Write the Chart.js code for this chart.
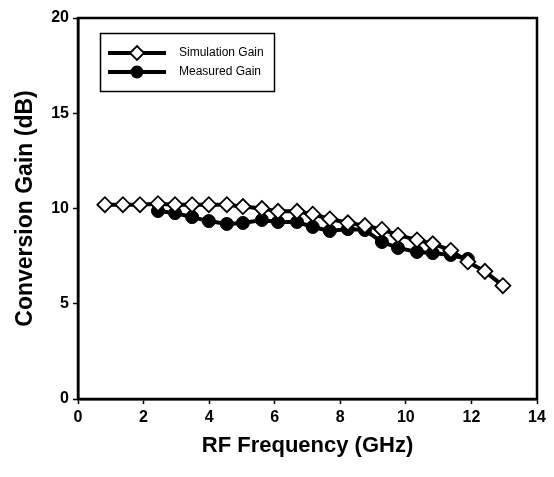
<!DOCTYPE html>
<html>
<head>
<meta charset="utf-8">
<script src="https://cdn.jsdelivr.net/npm/chart.js@4/dist/chart.umd.min.js"></script>
<style>
  html, body { margin: 0; padding: 0; background: #fff; }
  #wrap { width: 554px; height: 477px; position: relative; }
</style>
</head>
<body>
<div id="wrap"><canvas id="gain-chart" width="554" height="477"></canvas></div>
<script>
// values (GHz / dB)
const simFreq = [0.82, 1.37, 1.89, 2.44, 2.96, 3.48, 3.99, 4.54, 5.03, 5.61, 6.10, 6.68,
                 7.16, 7.68, 8.23, 8.75, 9.27, 9.76, 10.34, 10.82, 11.37, 11.89, 12.41, 12.96];
const simGain = [10.2, 10.2, 10.2, 10.25, 10.2, 10.2, 10.2, 10.2, 10.1, 10.0, 9.85, 9.85,
                 9.7, 9.45, 9.25, 9.1, 8.9, 8.6, 8.35, 8.15, 7.8, 7.2, 6.7, 5.95];
const measFreq = [2.44, 2.96, 3.48, 3.99, 4.54, 5.03, 5.61, 6.10, 6.68, 7.16,
                  7.68, 8.23, 8.75, 9.27, 9.76, 10.34, 10.82, 11.37, 11.89];
const measGain = [9.87, 9.76, 9.55, 9.34, 9.19, 9.24, 9.4, 9.29, 9.29, 9.03,
                  8.82, 8.92, 8.87, 8.24, 7.93, 7.72, 7.66, 7.56, 7.35];
const seriesNames = ['Simulation Gain', 'Measured Gain'];

const FONT = 'Liberation Sans, Arial, Helvetica, sans-serif';
const toPts = (xs, ys) => xs.map((x, i) => ({ x, y: ys[i] }));

// box round the plot + the boxed legend in the top-left corner
const frameAndLegend = {
  id: 'frameAndLegend',
  afterDraw(chart) {
    const { ctx, chartArea: a } = chart;
    ctx.save();
    ctx.strokeStyle = '#000';
    ctx.lineWidth = 2.5;
    ctx.strokeRect(a.left, a.top, a.right - a.left, a.bottom - a.top);

    ctx.lineWidth = 1.5;
    ctx.strokeRect(100.5, 33.5, 174, 58);
    const rows = [53, 72];
    rows.forEach((y, i) => {
      ctx.lineWidth = 4;
      ctx.beginPath();
      ctx.moveTo(108, y);
      ctx.lineTo(166, y);
      ctx.stroke();
      if (i === 0) {
        ctx.fillStyle = '#fff';
        ctx.lineWidth = 1.8;
        ctx.beginPath();
        ctx.moveTo(137 - 7, y);
        ctx.lineTo(137, y - 7);
        ctx.lineTo(137 + 7, y);
        ctx.lineTo(137, y + 7);
        ctx.closePath();
        ctx.fill();
        ctx.stroke();
      } else {
        ctx.fillStyle = '#000';
        ctx.beginPath();
        ctx.arc(137, y, 6.5, 0, Math.PI * 2);
        ctx.fill();
      }
      ctx.fillStyle = '#000';
      ctx.font = '12px ' + FONT;
      ctx.textBaseline = 'middle';
      ctx.fillText(seriesNames[i], 179, y);
    });
    ctx.restore();
  }
};

new Chart(document.getElementById('gain-chart'), {
  type: 'line',
  data: {
    datasets: [
      {
        label: seriesNames[0],
        data: toPts(simFreq, simGain),
        borderColor: '#000',
        borderWidth: 4,
        pointStyle: 'rectRot',
        pointRadius: 7.5,
        pointBackgroundColor: '#fff',
        pointBorderColor: '#000',
        pointBorderWidth: 1.8,
        tension: 0,
        order: 1
      },
      {
        label: seriesNames[1],
        data: toPts(measFreq, measGain),
        borderColor: '#000',
        borderWidth: 4,
        pointStyle: 'circle',
        pointRadius: 6.5,
        pointBackgroundColor: '#000',
        pointBorderColor: '#000',
        pointBorderWidth: 1,
        tension: 0,
        order: 2
      }
    ]
  },
  options: {
    responsive: false,
    animation: false,
    events: [],
    layout: { padding: { top: 18, right: 17, left: 0, bottom: 0 } },
    plugins: { legend: { display: false }, tooltip: { enabled: false } },
    scales: {
      x: {
        type: 'linear',
        min: 0, max: 14,
        afterFit(s) { s.height = 78; },
        ticks: { stepSize: 2, color: '#000', padding: 4, font: { family: FONT, size: 16, weight: 'bold' } },
        grid: { drawOnChartArea: false, drawTicks: true, tickLength: 5, tickWidth: 1.5, tickColor: '#000' },
        border: { display: true, color: '#000', width: 2.5 },
        title: { display: true, text: 'RF Frequency (GHz)', color: '#000',
                 font: { family: FONT, size: 22, weight: 'bold' }, padding: { top: 0, bottom: 18 } }
      },
      y: {
        min: 0, max: 20,
        afterFit(s) { s.width = 78; },
        ticks: { stepSize: 5, color: '#000', padding: 4, font: { family: FONT, size: 16, weight: 'bold' } },
        grid: { drawOnChartArea: false, drawTicks: true, tickLength: 5, tickWidth: 1.5, tickColor: '#000' },
        border: { display: true, color: '#000', width: 2.5 },
        title: { display: true, text: 'Conversion Gain (dB)', color: '#000',
                 font: { family: FONT, size: 23, weight: 'bold' }, padding: { top: 12, bottom: 0 } }
      }
    }
  },
  plugins: [frameAndLegend]
});
</script>
</body>
</html>
